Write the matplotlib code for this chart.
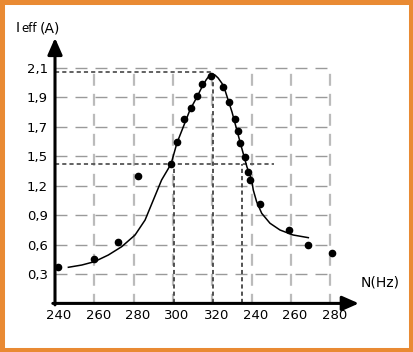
import matplotlib
matplotlib.use("Agg")
import matplotlib.pyplot as plt
import matplotlib.transforms as mtransforms
from matplotlib.patches import Rectangle
import numpy as np

plt.rcParams['lines.scale_dashes'] = False

# x positions are drawn on a continuous 20-step scale, labels copied from the picture
x_ticks = [240, 260, 280, 300, 320, 340, 360, 380]
x_labels = ['240', '260', '280', '300', '320', '240', '260', '280']

# y axis: equally spaced labels (not linear in value)
y_labels = ['0,3', '0,6', '0,9', '1,2', '1,5', '1,7', '1,9', '2,1']
y_label_vals = [0.0, 0.3, 0.6, 0.9, 1.2, 1.5, 1.7, 1.9, 2.1]

# measured points (N, Ieff)
pts_n = [241.5, 259.8, 272.0, 282.2, 299.0, 302.0, 305.6, 309.1, 312.2, 314.7,
         319.3, 325.4, 328.5, 331.5, 333.0, 334.1, 336.6, 338.1, 339.1, 344.2,
         359.0, 368.6, 380.8]
pts_i = [0.371, 0.453, 0.626, 1.299, 1.421, 1.597, 1.753, 1.828, 1.909, 1.991,
         2.045, 1.971, 1.869, 1.753, 1.672, 1.590, 1.492, 1.339, 1.258, 1.013,
         0.748, 0.595, 0.514]

# hand drawn resonance curve
curve_n = [246.8, 253.6, 260.0, 267.1, 273.9, 280.7, 285.8, 290.0, 294.2, 299.0,
           302.0, 308.6, 312.2, 314.7, 316.8, 318.3, 319.8, 321.3, 322.9, 324.9,
           326.4, 330.0, 334.1, 337.6, 340.0, 340.8, 342.5, 345.1, 349.3, 354.4,
           361.1, 368.8]
curve_i = [0.368, 0.391, 0.425, 0.493, 0.578, 0.697, 0.850, 1.054, 1.258, 1.421,
           1.590, 1.814, 1.903, 1.970, 2.018, 2.045, 2.059, 2.052, 2.032, 1.995,
           1.950, 1.800, 1.596, 1.390, 1.258, 1.156, 1.037, 0.918, 0.817, 0.748,
           0.697, 0.670]

i_max = 2.07
i_half = 1.42
n_res = 320.3
n_low = 300.5
n_high = 335.1


def to_pos(v):
    return np.interp(v, y_label_vals, np.arange(len(y_label_vals)))


fig = plt.figure(figsize=(4.13, 3.52), dpi=100)
ax = fig.add_axes([55 / 413, (352 - 303.4) / 352, 314.7 / 413, 270.8 / 352])
ax.set_xlim(240, 400)
ax.set_ylim(0, 9.2)
for s in ax.spines.values():
    s.set_visible(False)

# grid
ax.hlines(range(1, 9), 240, 380, colors='#9a9a9a', lw=1.0,
          linestyles=[(0, (8.6, 5.8))])
ax.vlines(x_ticks[1:], 0, 8, colors='#bbbbbb', lw=1.6,
          linestyles=[(2, (8.6, 5.8))])

# construction lines
dot = (0, (3.0, 2.2))
ax.plot([240, n_res], [to_pos(i_max)] * 2, color='#555555', lw=1.3, ls=dot)
ax.plot([n_res, n_res], [0, to_pos(i_max)], color='#444444', lw=1.3, ls=dot)
ax.plot([240, 351.3], [to_pos(i_half)] * 2, color='#555555', lw=1.3, ls=dot)
ax.plot([n_low, n_low], [0, to_pos(i_half)], color='#444444', lw=1.3, ls=dot)
ax.plot([n_high, n_high], [0, to_pos(i_half)], color='#444444', lw=1.3, ls=dot)

ax.plot(curve_n, to_pos(curve_i), color='black', lw=1.1)
ax.plot(pts_n, to_pos(pts_i), 'o', color='black', ms=4.5)

# axes arrows
arrow = dict(arrowstyle='-|>,head_length=0.5,head_width=0.22', lw=2.2,
             color='black', mutation_scale=20, shrinkA=0, shrinkB=0)
ax.annotate('', xy=(240, 9.02), xytext=(240, -0.05), arrowprops=arrow)
ax.annotate('', xy=(394.5, 0), xytext=(238.9, 0), arrowprops=arrow)

ax.set_xticks(x_ticks)
ax.set_xticklabels(x_labels, fontsize=9.5)
ax.set_yticks(range(1, 9))
ax.set_yticklabels(y_labels, fontsize=9.5)
ax.tick_params(length=0)
ax.tick_params(axis='x', pad=4)
ax.tick_params(axis='y', pad=5)
shift = mtransforms.ScaledTranslation(4 / 100, 0, fig.dpi_scale_trans)
for lbl in ax.get_xticklabels():
    lbl.set_transform(lbl.get_transform() + shift)

# axis titles
fig.text(16 / 413, 1 - 32 / 352, 'I', fontsize=10, va='baseline')
fig.text(21 / 413, 1 - 32 / 352, 'eff', fontsize=8.5, va='baseline')
fig.text(40 / 413, 1 - 32 / 352, '(A)', fontsize=10, va='baseline')
fig.text(361 / 413, 1 - 286 / 352, 'N(Hz)', fontsize=10, va='baseline')

fig.patches.append(Rectangle((0, 0), 1, 1, transform=fig.transFigure,
                             fill=False, edgecolor='#e98a33', lw=6.5))

fig.savefig('out.png', dpi=100)
